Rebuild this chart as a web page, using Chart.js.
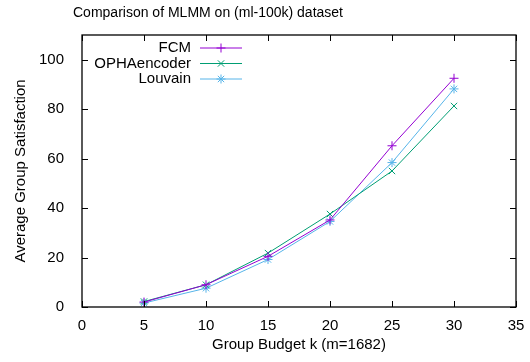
<!DOCTYPE html>
<html>
<head>
<meta charset="utf-8">
<script src="https://cdn.jsdelivr.net/npm/chart.js@4"></script>
<style>
  body { margin: 0; background: #fff; }
  #wrap { width: 530px; height: 362px; }
</style>
</head>
<body>
<div id="wrap"><canvas id="grafico" width="530" height="362"></canvas></div>
<script>
const budgets = [5, 10, 15, 20, 25, 30];
const fcm = [2, 9, 20.5, 35.2, 65.2, 92.5];
const ophaEncoder = [2.2, 9, 21.8, 37.6, 55, 81.3];
const louvain = [1.6, 7.6, 19.2, 34.6, 58.4, 88.2];
const xTicks = [0, 5, 10, 15, 20, 25, 30, 35];
const yTicks = [0, 20, 40, 60, 80, 100];

const fuente = 'Liberation Sans, Arial, sans-serif';

// marco estilo gnuplot con marcas hacia dentro
const marcoPlugin = {
    id: 'marco',
    afterDraw(chart) {
        const ctx = chart.ctx;
        const a = chart.chartArea;
        const x = chart.scales.x;
        const y = chart.scales.y;
        ctx.save();
        ctx.strokeStyle = '#000';
        ctx.lineWidth = 1;
        ctx.beginPath();
        xTicks.forEach(v => {
            const px = Math.round(x.getPixelForValue(v)) + 0.5;
            ctx.moveTo(px, a.bottom); ctx.lineTo(px, a.bottom - 6);
            ctx.moveTo(px, a.top); ctx.lineTo(px, a.top + 6);
        });
        yTicks.forEach(v => {
            const py = Math.round(y.getPixelForValue(v)) + 0.5;
            ctx.moveTo(a.left, py); ctx.lineTo(a.left + 6, py);
            ctx.moveTo(a.right, py); ctx.lineTo(a.right - 6, py);
        });
        ctx.stroke();
        ctx.lineWidth = 1.3;
        ctx.strokeRect(a.left, a.top, a.right - a.left, a.bottom - a.top);

        // titulo
        ctx.fillStyle = '#000';
        ctx.font = '14px ' + fuente;
        ctx.textAlign = 'left';
        ctx.textBaseline = 'middle';
        ctx.fillText('Comparison of MLMM on (ml-100k) dataset', 73, 13);

        // leyenda
        ctx.font = '15px ' + fuente;
        ctx.textAlign = 'right';
        chart.data.datasets.forEach((ds, i) => {
            const fy = 48 + i * 15.5;
            ctx.fillStyle = '#000';
            ctx.fillText(ds.label, 191, fy);
            ctx.strokeStyle = ds.borderColor;
            ctx.lineWidth = 1;
            ctx.beginPath();
            ctx.moveTo(200, fy); ctx.lineTo(242, fy);
            ctx.stroke();
            Chart.helpers.drawPoint(ctx, {
                pointStyle: ds.pointStyle, radius: ds.pointRadius, borderWidth: 1
            }, 221, fy);
        });
        ctx.restore();
    }
};

const ctx = document.getElementById('grafico').getContext('2d');
const grafico = new Chart(ctx, {
    type: 'line',
    data: {
        datasets: [
            {
                label: 'FCM',
                data: budgets.map((b, i) => ({ x: b, y: fcm[i] })),
                borderColor: '#9400d3',
                pointStyle: 'cross',
            },
            {
                label: 'OPHAencoder',
                data: budgets.map((b, i) => ({ x: b, y: ophaEncoder[i] })),
                borderColor: '#009e73',
                pointStyle: 'crossRot',
            },
            {
                label: 'Louvain',
                data: budgets.map((b, i) => ({ x: b, y: louvain[i] })),
                borderColor: '#56b4e9',
                pointStyle: 'star',
            }
        ].map(ds => ({
            ...ds,
            backgroundColor: ds.borderColor,
            pointBorderColor: ds.borderColor,
            borderWidth: 1,
            pointRadius: 4.5,
            pointBorderWidth: 1,
            tension: 0,
            fill: false,
        }))
    },
    options: {
        responsive: false,
        animation: false,
        events: [],
        layout: { padding: { left: 0, right: 14, top: 35, bottom: 0 } },
        plugins: {
            legend: { display: false },
            title: { display: false },
            tooltip: { enabled: false }
        },
        scales: {
            x: {
                type: 'linear',
                min: 0,
                max: 35,
                afterBuildTicks: (s) => { s.ticks = xTicks.map(v => ({ value: v })); },
                afterFit: (s) => { s.height = 55; },
                grid: { display: false },
                border: { display: false },
                ticks: { color: '#000', padding: 2, font: { family: fuente, size: 15 } },
                title: {
                    display: true,
                    text: 'Group Budget k (m=1682)',
                    color: '#000',
                    font: { family: fuente, size: 15 },
                    padding: { top: 0, bottom: 8 }
                }
            },
            y: {
                min: 0,
                max: 110,
                afterBuildTicks: (s) => { s.ticks = yTicks.map(v => ({ value: v })); },
                afterFit: (s) => { s.width = 82; },
                grid: { display: false },
                border: { display: false },
                ticks: { color: '#000', padding: 10, font: { family: fuente, size: 15 } },
                title: {
                    display: true,
                    text: 'Average Group Satisfaction',
                    color: '#000',
                    font: { family: fuente, size: 15 },
                    padding: { top: 12, bottom: 0 }
                }
            }
        }
    },
    plugins: [marcoPlugin]
});
</script>
</body>
</html>
